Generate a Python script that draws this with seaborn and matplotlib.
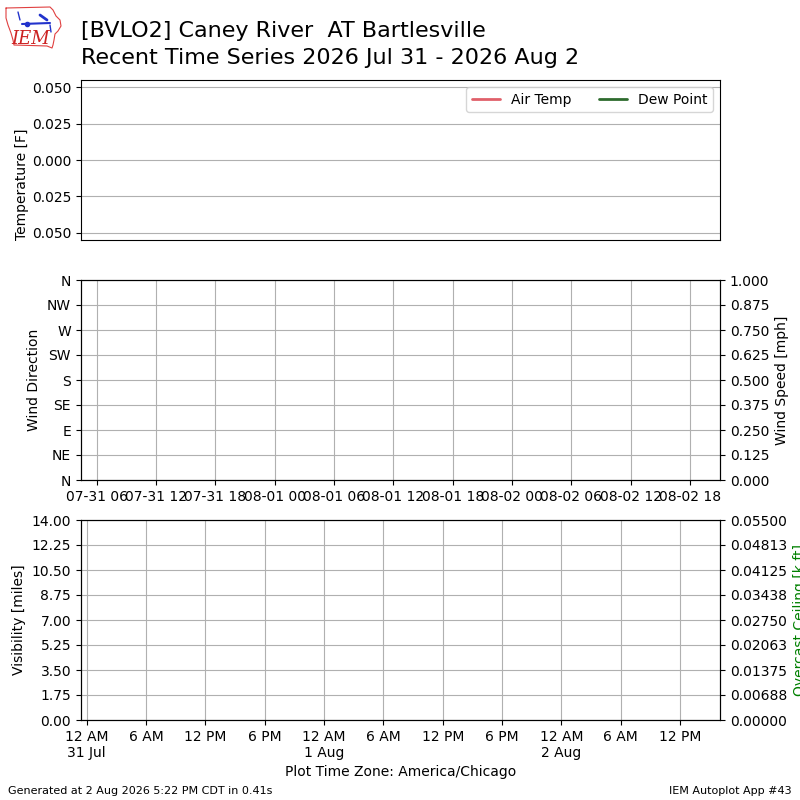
import matplotlib
matplotlib.use("Agg")
import matplotlib.pyplot as plt
import matplotlib.dates as mdates
from matplotlib.ticker import FuncFormatter
import seaborn as sns
import numpy as np
from datetime import datetime, timedelta, timezone

# --- data (the station reported nothing in this window) ---
obs_times = []
air_temp = []
dew_point = []
wind_dir = []
wind_speed = []
visibility = []
ceiling = []

station = "[BVLO2] Caney River  AT Bartlesville"
subtitle = "Recent Time Series 2026 Jul 31 - 2026 Aug 2"
temp_ticks = [-0.05, -0.025, 0.0, 0.025, 0.05]
temp_labels = ["0.050", "0.025", "0.000", "0.025", "0.050"]
dir_ticks = [0, 45, 90, 135, 180, 225, 270, 315, 360]
dir_labels = ["N", "NE", "E", "SE", "S", "SW", "W", "NW", "N"]
speed_ticks = [0, 0.125, 0.25, 0.375, 0.5, 0.625, 0.75, 0.875, 1.0]
vis_ticks = [0, 1.75, 3.5, 5.25, 7.0, 8.75, 10.5, 12.25, 14.0]
ceil_ticks = [0, 0.006875, 0.01375, 0.020625, 0.0275, 0.034375, 0.04125, 0.048125, 0.055]

utc = timezone.utc
cdt = timezone(timedelta(hours=-5), "CDT")
t_start = datetime(2026, 7, 31, 4, 24, tzinfo=utc)
t_end = datetime(2026, 8, 2, 21, 2, tzinfo=utc)

sns.set_style("ticks", rc={
    "axes.edgecolor": "black",
    "text.color": "black",
    "axes.labelcolor": "black",
    "xtick.color": "black",
    "ytick.color": "black",
})
plt.rcParams["font.family"] = ["DejaVu Sans"]

fig = plt.figure(figsize=(8, 8), dpi=100)

# --- temperature panel ---
ax1 = fig.add_axes([0.101, 0.70, 0.799, 0.20])
sns.lineplot(x=obs_times, y=air_temp, ax=ax1)
ax1.plot([], [], color="#e0606a", lw=2, label="Air Temp")
ax1.plot([], [], color="#2e6b2e", lw=2, label="Dew Point")
ax1.set_xlim(t_start, t_end)
ax1.set_ylim(-0.055, 0.055)
ax1.set_yticks(temp_ticks)
ax1.set_yticklabels(temp_labels)
ax1.set_xticks([])
ax1.grid(True, axis="y", color="#b0b0b0")
ax1.set_ylabel("Temperature [F]")
ax1.yaxis.set_label_coords(-0.081, 0.35)
ax1.legend(loc="upper right", ncol=2, fontsize=10)

# --- wind panel ---
ax2 = fig.add_axes([0.101, 0.40, 0.799, 0.25])
sns.lineplot(x=obs_times, y=wind_dir, ax=ax2)
ax2.set_xlim(t_start, t_end)
ax2.set_ylim(0, 360)
ax2.set_yticks(dir_ticks)
ax2.set_yticklabels(dir_labels)
ax2.xaxis.set_major_locator(mdates.HourLocator(byhour=[0, 6, 12, 18], tz=utc))
ax2.xaxis.set_major_formatter(mdates.DateFormatter("%m-%d %H", tz=utc))
ax2.grid(True, color="#b0b0b0")
ax2.set_ylabel("Wind Direction")
ax2b = ax2.twinx()
ax2b.set_ylim(0, 1)
ax2b.set_yticks(speed_ticks)
ax2b.yaxis.set_major_formatter(FuncFormatter(lambda v, p: "%.3f" % v))
ax2b.set_ylabel("Wind Speed [mph]")

# --- visibility / ceiling panel ---
ax3 = fig.add_axes([0.101, 0.10, 0.799, 0.25])
sns.lineplot(x=obs_times, y=visibility, ax=ax3)
ax3.set_xlim(t_start, t_end)
ax3.set_ylim(0, 14)
ax3.set_yticks(vis_ticks)
ax3.yaxis.set_major_formatter(FuncFormatter(lambda v, p: "%.2f" % v))
ax3.xaxis.set_major_locator(mdates.HourLocator(byhour=[0, 6, 12, 18], tz=cdt))


def local_fmt(x, pos):
    d = mdates.num2date(x, tz=cdt)
    hr = d.hour % 12 or 12
    ampm = "AM" if d.hour < 12 else "PM"
    s = "%d %s" % (hr, ampm)
    if d.hour == 0:
        s += "\n%d %s" % (d.day, d.strftime("%b"))
    return s


ax3.xaxis.set_major_formatter(FuncFormatter(local_fmt))
ax3.grid(True, color="#b0b0b0")
ax3.set_ylabel("Visibility [miles]")
ax3.set_xlabel("Plot Time Zone: America/Chicago")
ax3b = ax3.twinx()
ax3b.set_ylim(0, 0.055)
ax3b.set_yticks(ceil_ticks)
ax3b.yaxis.set_major_formatter(FuncFormatter(lambda v, p: "%.5f" % v))
ax3b.set_ylabel("Overcast Ceiling [k ft]", color="green")

# --- titles and footer ---
fig.text(0.101, 0.9485, station, fontsize=16, va="bottom")
fig.text(0.101, 0.9145, subtitle, fontsize=16, va="bottom")
fig.text(0.01, 0.008, "Generated at 2 Aug 2026 5:22 PM CDT in 0.41s", fontsize=8)
fig.text(0.99, 0.008, "IEM Autoplot App #43", fontsize=8, ha="right")

# --- rough IEM logo ---
logo = fig.add_axes([0.0, 0.935, 0.085, 0.065])
logo.set_xlim(0, 68)
logo.set_ylim(52, 0)
logo.axis("off")
ox = [6, 50, 53, 56, 60, 61, 58, 55, 54, 53, 52, 47, 14, 13, 11, 8, 6, 6]
oy = [8, 7, 10, 16, 20, 26, 31, 34, 40, 45, 48, 46, 45, 40, 33, 25, 18, 8]
logo.plot(ox, oy, color="#e04040", lw=0.8)
logo.plot([22, 50], [24, 23], color="#2233cc", lw=1.5)
logo.plot([27], [24], "o", color="#2233cc", ms=3)
logo.plot([40, 47], [15, 20], color="#2233cc", lw=2)
logo.plot([18, 20], [12, 20], color="#2233cc", lw=1)
logo.plot([50, 51], [25, 32], color="#2233cc", lw=1)
logo.text(31, 39, "IEM", color="#cc2222", fontsize=13, style="italic",
          family="DejaVu Serif", ha="center", va="center")

fig.savefig("out.png", dpi=100)
